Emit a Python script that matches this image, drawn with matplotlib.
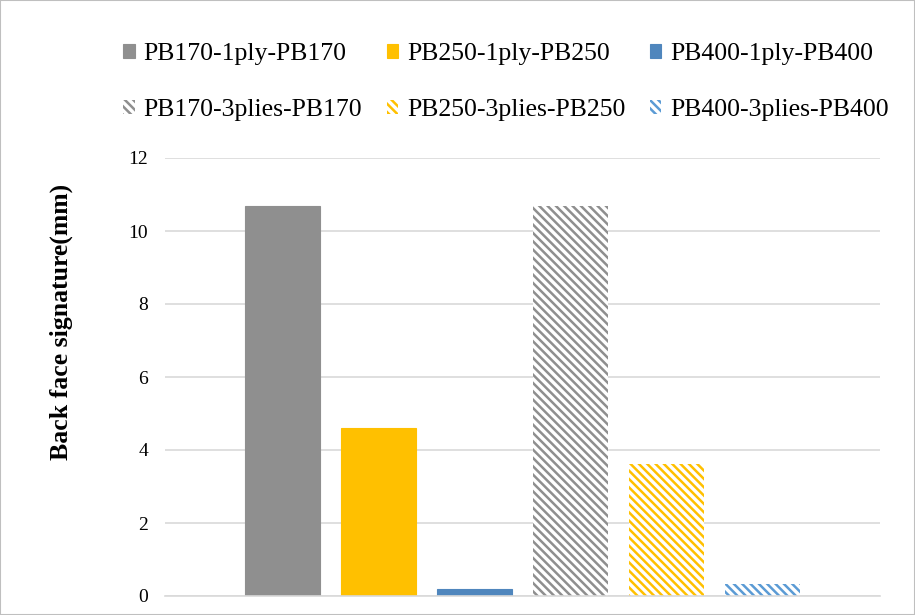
import matplotlib.pyplot as plt
import numpy as np

plt.rcParams['font.family'] = ['Liberation Serif', 'DejaVu Serif']
plt.rcParams['hatch.linewidth'] = 1.8

# data
labels = ["PB170-1ply-PB170", "PB250-1ply-PB250", "PB400-1ply-PB400",
          "PB170-3plies-PB170", "PB250-3plies-PB250", "PB400-3plies-PB400"]
values = [10.68, 4.6, 0.2, 10.68, 3.62, 0.32]
colors = ["#8f8f8f", "#ffc000", "#4f86bd", "#8f8f8f", "#ffc000", "#5b9bd5"]
hatches = [None, None, None, "\\\\\\\\", "\\\\\\\\", "\\\\\\\\"]

fig = plt.figure(figsize=(9.15, 6.15), dpi=100)
ax = fig.add_axes([165 / 915, 1 - 596 / 615, 715 / 915, 438 / 615])

n = len(values)
width = 0.78
x = np.arange(n) - (n - 1) / 2
handles = []
for i in range(n):
    if hatches[i] is None:
        b = ax.bar(x[i], values[i], width=width, color=colors[i],
                   edgecolor=colors[i], linewidth=0.8, label=labels[i])
    else:
        b = ax.bar(x[i], values[i], width=width, facecolor="white",
                   edgecolor=colors[i], linewidth=0, hatch=hatches[i],
                   label=labels[i])
    handles.append(b)

ax.set_xlim(-3.72, 3.72)
ax.set_ylim(0, 12)
ax.set_yticks(range(0, 13, 2))
ax.set_xticks([])
ax.grid(axis="y", color="#d9d9d9", linewidth=1.2)
ax.set_axisbelow(True)
for s in ["top", "right", "left"]:
    ax.spines[s].set_visible(False)
ax.spines["bottom"].set_color("#d9d9d9")
ax.spines["bottom"].set_linewidth(1.2)
ax.tick_params(axis="y", length=0, labelsize=14, pad=12)
ax.set_ylabel("Back face signature(mm)", fontsize=18.5, fontweight="bold")
ax.yaxis.set_label_coords(-0.128, 0.626)

# legend is filled column by column, so reorder to read row by row
order = [0, 3, 1, 4, 2, 5]
fig.legend(handles=[handles[k] for k in order],
           labels=[labels[k] for k in order], loc="upper center",
           bbox_to_anchor=(0.553, 0.963), ncol=3, frameon=False,
           fontsize=18.5, handlelength=0.45, handleheight=0.45,
           handletextpad=0.35, columnspacing=0.95, labelspacing=1.32,
           borderpad=0.3)

fig.patches.append(plt.Rectangle((0, 0), 1, 1, transform=fig.transFigure,
                                 fill=False, edgecolor="#bfbfbf", linewidth=1.5))

plt.savefig("out.png", dpi=100)
